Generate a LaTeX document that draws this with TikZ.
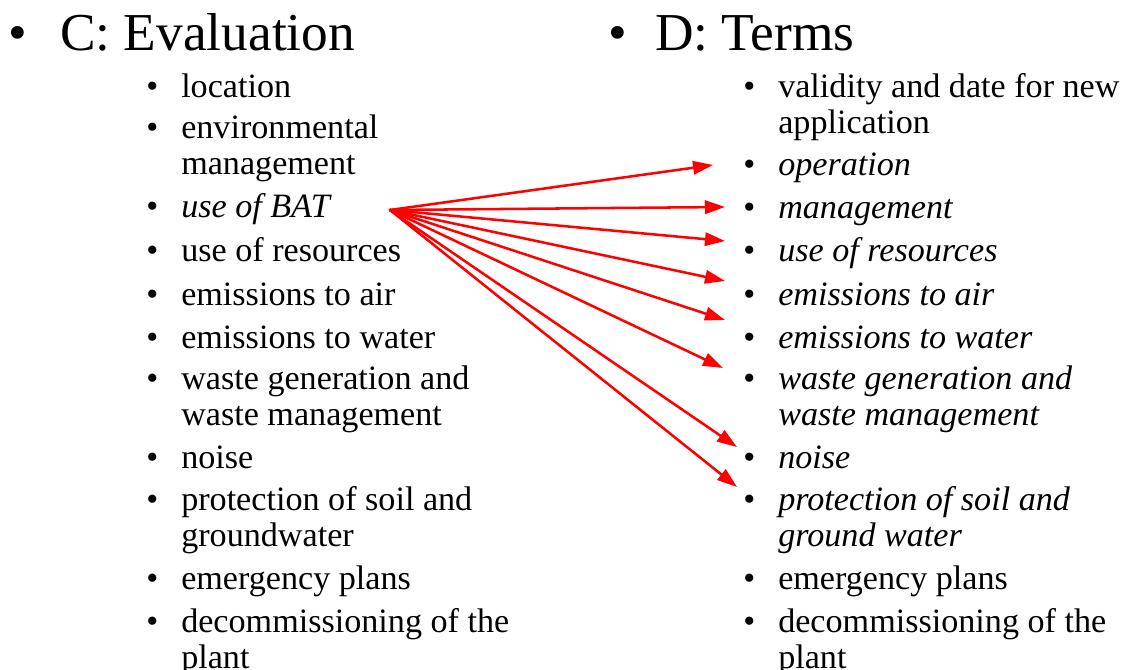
\documentclass[tikz,border=0pt]{standalone}
\usepackage{fontspec}
\setmainfont{Liberation Serif}
\usetikzlibrary{arrows.meta}
\newcommand{\headfont}{\fontsize{40}{48}\selectfont}
\newcommand{\itemfont}{\fontsize{25.6}{27}\selectfont}
\newcommand{\headentry}[2]{\makebox[#1][l]{\textbullet}#2}
\newcommand{\entry}[1]{\makebox[26.25pt][l]{\textbullet}\parbox[t]{300pt}{\raggedright #1}}

\begin{document}
\begin{tikzpicture}[x=0.75pt, y=-0.75pt, >={Triangle[length=15pt,width=10pt]}, line join=round, line cap=round,
    head/.style={anchor=base west, inner sep=0pt, font=\headfont},
    item/.style={anchor=base west, inner sep=0pt, font=\itemfont},
    link/.style={->, red, line width=1.9pt}]
    \useasboundingbox (0,0) rectangle (1123,670);
    \node[head] (evalhead) at (8,51) {\headentry{39pt}{C: Evaluation}};
    \node[head] (termshead) at (608,51) {\headentry{35.25pt}{D: Terms}};

    \node[item] (evloc) at (146,98) {\entry{location}};
    \node[item] (evenv) at (146,139) {\entry{environmental\\management}};
    \node[item] (evbat) at (146,218) {\entry{\textit{use of BAT}}};
    \node[item] (evres) at (146,261) {\entry{use of resources}};
    \node[item] (evair) at (146,305) {\entry{emissions to air}};
    \node[item] (evwater) at (146,348) {\entry{emissions to water}};
    \node[item] (evwaste) at (146,389) {\entry{waste generation and\\waste management}};
    \node[item] (evnoise) at (146,468) {\entry{noise}};
    \node[item] (evsoil) at (146,510) {\entry{protection of soil and\\groundwater}};
    \node[item] (evemerg) at (146,589) {\entry{emergency plans}};
    \node[item] (evdecom) at (146,632) {\entry{decommissioning of the\\plant}};

    \node[item] (tmvalid) at (743,98) {\entry{validity and date for new\\application}};
    \node[item] (tmop) at (743,176) {\entry{\textit{operation}}};
    \node[item] (tmmgmt) at (743,219) {\entry{\textit{management}}};
    \node[item] (tmres) at (743,261) {\entry{\textit{use of resources}}};
    \node[item] (tmair) at (743,305) {\entry{\textit{emissions to air}}};
    \node[item] (tmwater) at (743,348) {\entry{\textit{emissions to water}}};
    \node[item] (tmwaste) at (743,389) {\entry{\textit{waste generation and\\waste management}}};
    \node[item] (tmnoise) at (743,468) {\entry{\textit{noise}}};
    \node[item] (tmsoil) at (743,510) {\entry{\textit{protection of soil and\\ground water}}};
    \node[item] (tmemerg) at (743,589) {\entry{emergency plans}};
    \node[item] (tmdecom) at (743,632) {\entry{decommissioning of the\\plant}};

    \coordinate (batend) at (390,210);
    \coordinate (toop) at (713,165);
    \coordinate (tomgmt) at (725,207);
    \coordinate (tores) at (725,241);
    \coordinate (toair) at (725,281);
    \coordinate (towater) at (725,320);
    \coordinate (towaste) at (723,368);
    \coordinate (tonoise) at (737,447);
    \coordinate (tosoil) at (737,487);
    \draw[link] (batend) -- (toop);
    \draw[link] (batend) -- (tomgmt);
    \draw[link] (batend) -- (tores);
    \draw[link] (batend) -- (toair);
    \draw[link] (batend) -- (towater);
    \draw[link] (batend) -- (towaste);
    \draw[link] (batend) -- (tonoise);
    \draw[link] (batend) -- (tosoil);
  \end{tikzpicture}
\end{document}
